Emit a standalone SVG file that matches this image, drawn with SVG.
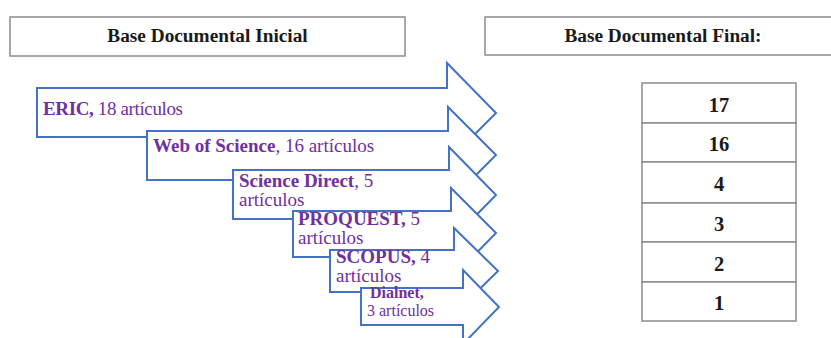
<svg xmlns="http://www.w3.org/2000/svg" width="831" height="338" viewBox="0 0 831 338">
<style>
.hdr{fill:#fff;stroke:#8c8c8c;stroke-width:1.5}
.ht{font-family:"Liberation Serif",serif;font-weight:bold;font-size:19.3px;fill:#1a1a1a;text-anchor:middle}
.arr{fill:#fff;stroke:#4472C4;stroke-width:2;stroke-linejoin:miter}
.lbl{font-family:"Liberation Serif",serif;font-size:19px;fill:#7030A0}
.sm{font-size:16px}
.b{font-weight:bold}
.cell{fill:#fff;stroke:#8c8c8c;stroke-width:1.5}
.num{font-family:"Liberation Serif",serif;font-weight:bold;font-size:20.5px;fill:#1a1a1a;text-anchor:middle}
</style>
<rect width="831" height="338" fill="#fff"/>
<g id="header-inicial">
<rect class="hdr" x="10" y="17" width="395" height="39"/>
<text class="ht" x="207.5" y="42">Base Documental Inicial</text>
</g>
<g id="header-final">
<rect class="hdr" x="485" y="17" width="360" height="38"/>
<text class="ht" x="663" y="42">Base Documental Final:</text>
</g>
<g id="connectors">
<g id="arrow-eric">
<path class="arr" d="M37,88 H447 V63 L496,113 L447,162 V137 H37 Z"/>
<text class="lbl" x="43" y="115" textLength="140"><tspan class="b">ERIC,</tspan> 18 artículos</text>
</g>
<g id="arrow-wos">
<path class="arr" d="M147,131 H448 V107 L496,155 L448,203 V180 H147 Z"/>
<text class="lbl" x="153" y="152"><tspan class="b">Web of Science</tspan>, 16 artículos</text>
</g>
<g id="arrow-sd">
<path class="arr" d="M233,170 H449 V147 L496,195 L449,243 V219 H233 Z"/>
<text class="lbl" x="239" y="187"><tspan class="b">Science Direct</tspan>, 5</text>
<text class="lbl" x="239" y="206">artículos</text>
</g>
<g id="arrow-proquest">
<path class="arr" d="M293,211 H451 V188 L496,233 L451,279 V257 H293 Z"/>
<text class="lbl" x="298" y="225"><tspan class="b">PROQUEST,</tspan> 5</text>
<text class="lbl" x="298" y="244">artículos</text>
</g>
<g id="arrow-scopus">
<path class="arr" d="M330,250 H454 V228 L498,271 L454,314 V292 H330 Z"/>
<text class="lbl" x="336" y="263"><tspan class="b">SCOPUS,</tspan> 4</text>
<text class="lbl" x="336" y="282">artículos</text>
</g>
<g id="arrow-dialnet">
<path class="arr" d="M361,288 H463 V270 L499,307 L463,344 V325 H361 Z"/>
<text class="lbl sm b" x="370" y="298">Dialnet,</text>
<text class="lbl sm" x="367" y="316">3 artículos</text>
</g>
</g>
<g id="table-final">
<rect class="cell" x="642" y="83" width="154" height="40"/>
<rect class="cell" x="642" y="123" width="154" height="39"/>
<rect class="cell" x="642" y="162" width="154" height="41"/>
<rect class="cell" x="642" y="203" width="154" height="39"/>
<rect class="cell" x="642" y="242" width="154" height="40"/>
<rect class="cell" x="642" y="282" width="154" height="39"/>
<text class="num" x="719" y="112">17</text>
<text class="num" x="719" y="151">16</text>
<text class="num" x="719" y="191">4</text>
<text class="num" x="719" y="231">3</text>
<text class="num" x="719" y="271">2</text>
<text class="num" x="719" y="310">1</text>
</g>
</svg>
